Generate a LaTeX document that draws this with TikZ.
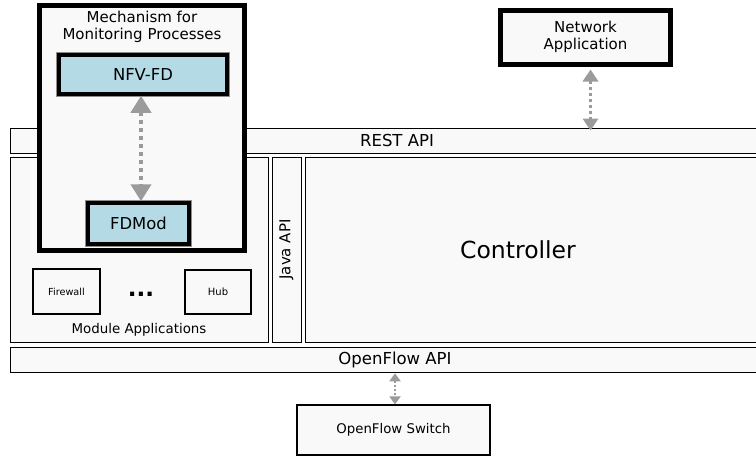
\documentclass[tikz,border=0pt]{standalone}
\usepackage{fontspec}
\setmainfont{DejaVu Sans}
\usetikzlibrary{arrows.meta}

\definecolor{boxfill}{HTML}{F9F9F9}
\definecolor{fdblue}{HTML}{B4DAE6}
\definecolor{linkgray}{HTML}{9B9B9B}

\tikzset{
  layer/.style={draw=black, fill=boxfill, line width=1.3pt, inner sep=0pt, anchor=north west},
  smallbox/.style={draw=black, fill=boxfill, line width=1.1pt, inner sep=0pt},
  heavybox/.style={draw=black, fill=boxfill, line width=5pt, inner sep=0pt},
  fdbox/.style={draw=black, fill=fdblue, line width=3.5pt, inner sep=0pt,
    preaction={draw=black!45, line width=6.5pt}},
  link/.style={draw=linkgray, line width=#1, dash pattern=on #1 off #1},
  txt/.style={font=\fontsize{#1}{#1}\selectfont, inner sep=0pt, align=center},
}

\begin{document}
\begin{tikzpicture}[x=1pt, y=-1pt]
\useasboundingbox (0,0) rectangle (756,456);
\clip (0,0) rectangle (756,456);

% layers
\node[layer, minimum width=775pt, minimum height=25pt] (rest) at (10,128) {};
\node[txt=16.5] (restlabel) at (397,140.5) {REST API};

\node[layer, minimum width=258pt, minimum height=185pt] (modules) at (10,157) {};
\node[txt=13.4] (moduleslabel) at (139,330) {Module Applications};
\node[smallbox, minimum width=67pt, minimum height=45pt] (firewall) at (66.5,291.5) {\fontsize{9.7}{10}\selectfont Firewall};
\node[smallbox, minimum width=66pt, minimum height=44pt] (hub) at (218,292) {\fontsize{10}{10}\selectfont Hub};
\node[inner sep=0pt, font=\fontsize{23}{23}\selectfont\bfseries] (dots) at (141,294.5) {...};

\node[layer, minimum width=29pt, minimum height=185pt] (java) at (272,157) {};
\node[txt=15, rotate=90] (javalabel) at (286.5,249.5) {Java API};

\node[layer, minimum width=470pt, minimum height=185pt] (controller) at (305,157) {};
\node[txt=23.5] (controllerlabel) at (518,249.5) {Controller};

\node[layer, minimum width=775pt, minimum height=25pt] (openflow) at (10,347) {};
\node[txt=16.5] (openflowlabel) at (395,359.5) {OpenFlow API};

\node[smallbox, line width=1.3pt, minimum width=193pt, minimum height=50pt] (switch) at (393.5,430) {\fontsize{13.3}{14}\selectfont OpenFlow Switch};

% monitoring mechanism
\node[heavybox, minimum width=205pt, minimum height=245pt] (mechanism) at (142,128) {};
\node[txt=15, font=\fontsize{15}{17.5}\selectfont] (mechlabel) at (142,27) {Mechanism for\\Monitoring Processes};
\node[fdbox, minimum width=168pt, minimum height=39pt] (nfvfd) at (143,74.5) {\fontsize{16.4}{17}\selectfont NFV-FD};
\node[fdbox, minimum width=101pt, minimum height=41pt] (fdmod) at (138.5,223.5) {\fontsize{16.4}{17}\selectfont FDMod};

\node[heavybox, minimum width=170pt, minimum height=54pt] (netapp) at (585.5,37.5)
  {\fontsize{15}{17.5}\selectfont\begin{tabular}{@{}c@{}}Network\\Application\end{tabular}};

% connectors
\draw[link=4pt, {Triangle[width=20pt,length=17pt]}-{Triangle[width=20pt,length=17pt]}]
  ([xshift=-2pt]nfvfd.south) -- ([xshift=-2pt]nfvfd.south |- fdmod.north);
\draw[link=3pt, {Triangle[width=15pt,length=12pt]}-{Triangle[width=15pt,length=12pt]}]
  ([xshift=5pt,yshift=-2.5pt]netapp.south) -- ([xshift=5pt,yshift=-2.5pt]netapp.south |- rest.north);
\draw[link=2pt, {Triangle[width=11pt,length=8pt]}-{Triangle[width=11pt,length=8pt]}]
  ([xshift=1.5pt]switch.north |- openflow.south) -- ([xshift=1.5pt]switch.north);

\end{tikzpicture}
\end{document}
